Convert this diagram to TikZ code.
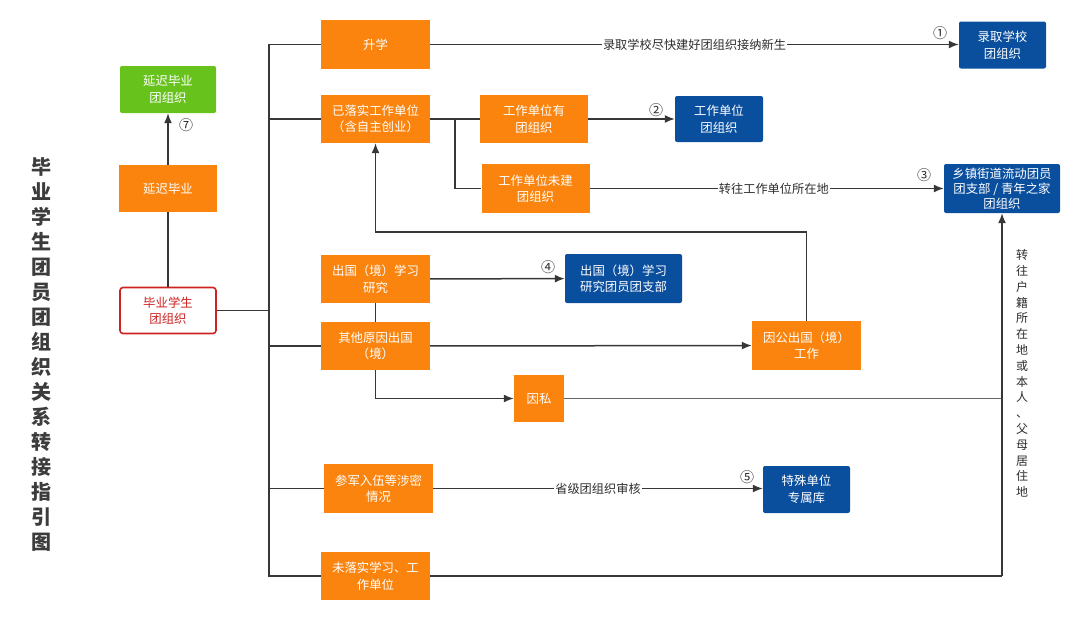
\documentclass[tikz,border=0pt]{standalone}
\usepackage{fontspec}
\setmainfont{Noto Sans CJK SC}
\usetikzlibrary{arrows.meta}
\definecolor{boxorange}{RGB}{250,132,14}
\definecolor{boxblue}{RGB}{10,78,158}
\definecolor{boxgreen}{RGB}{104,194,28}
\definecolor{boxred}{RGB}{205,35,35}
\definecolor{linegray}{RGB}{55,55,55}
\definecolor{textgray}{RGB}{45,45,45}
\definecolor{titlegray}{RGB}{60,60,60}
\tikzset{
  box/.style={minimum width=109pt, minimum height=48pt, inner sep=0pt, align=center,
    text=white, font=\fontsize{12.4}{16.5}\selectfont},
  orangebox/.style={box, fill=boxorange},
  bluebox/.style={box, fill=boxblue, rounded corners=2pt},
  greenbox/.style={box, fill=boxgreen, rounded corners=2pt},
  redbox/.style={box, fill=white, draw=boxred, line width=1.6pt, rounded corners=3pt, text=boxred},
  conn/.style={draw=linegray, line width=1.5pt},
  arr/.style={conn, -{Latex[length=10pt,width=8pt]}},
  lbl/.style={fill=white, inner sep=1pt, text=textgray, font=\fontsize{12.2}{14}\selectfont},
  num/.style={text=textgray, font=\fontsize{14}{14}\selectfont}
}
\begin{document}
\begin{tikzpicture}[x=1pt,y=-1pt]
\useasboundingbox (0,0) rectangle (1080,632);
% title
\node[align=center, text=titlegray, font=\fontsize{20}{25}\selectfont\bfseries] (title) at (41,355)
  {毕\\业\\学\\生\\团\\员\\团\\组\\织\\关\\系\\转\\接\\指\\引\\图};
% left column
\node[greenbox, minimum width=96pt, minimum height=47pt] (delaygrp) at (168,89.5) {延迟毕业\\团组织};
\node[orangebox, minimum width=98pt, minimum height=47pt] (delay) at (168,188.5) {延迟毕业};
\node[redbox, minimum width=96pt, minimum height=46pt] (grad) at (168,310.5) {毕业学生\\团组织};
% second column
\node[orangebox, minimum height=49pt] (further) at (375.5,44.5) {升学};
\node[orangebox] (employed) at (375.5,119) {已落实工作单位\\（含自主创业）};
\node[orangebox] (abroadstudy) at (375.5,279) {出国（境）学习\\研究};
\node[orangebox] (abroadother) at (375.5,346) {其他原因出国\\（境）};
\node[orangebox, minimum height=49pt] (army) at (378.5,488.5) {参军入伍等涉密\\情况};
\node[orangebox] (none) at (375.5,576) {未落实学习、工\\作单位};
% third column
\node[orangebox, minimum width=108pt] (unitorg) at (534,119) {工作单位有\\团组织};
\node[orangebox, minimum width=108pt, minimum height=49pt] (unitnone) at (535.5,188.5) {工作单位未建\\团组织};
\node[orangebox, minimum width=50pt, minimum height=47pt] (private) at (539,398.5) {因私};
\node[orangebox, minimum height=49pt] (official) at (806.5,345.5) {因公出国（境）\\工作};
% targets
\node[bluebox, minimum width=88pt, minimum height=46pt] (unitblue) at (719,119) {工作单位\\团组织};
\node[bluebox, minimum width=87pt, minimum height=47pt] (school) at (1002.5,45) {录取学校\\团组织};
\node[bluebox, minimum width=116pt, minimum height=49pt, font=\fontsize{12.4}{15}\selectfont] (township) at (1002,188.5)
  {乡镇街道流动团员\\团支部 / 青年之家\\团组织};
\node[bluebox, minimum width=117pt, minimum height=49pt] (abroadbr) at (623.5,278.5) {出国（境）学习\\研究团员团支部};
\node[bluebox, minimum width=87pt, minimum height=47pt] (special) at (806.5,489.5) {特殊单位\\专属库};
% bends
\coordinate (hub) at (269,310.5);
\coordinate (split) at (455,119);
\coordinate (offup) at (806.5,232);
\coordinate (privjoin) at (1002,398.5);
\coordinate (corner) at (1002,576);
% connectors
\draw[conn] (grad) -- (delay);
\draw[arr] (delay) -- (delaygrp);
\node[num] (n7) at (186,125) {⑦};
\draw[conn] (grad.east) -- (hub);
\draw[conn] (hub) |- (further.west);
\draw[conn] (hub) |- (employed.west);
\draw[conn] (hub) |- (abroadother.west);
\draw[conn] (hub) |- (army.west);
\draw[conn] (hub) |- (none.west);
\draw[arr] (further.east) -- node[lbl] {录取学校尽快建好团组织接纳新生} (school.west |- further.east);
\node[num] (n1) at (940,33) {①};
\draw[conn] (employed) -- (unitorg);
\draw[conn] (split) |- (unitnone.west);
\draw[arr] (unitorg) -- (unitblue);
\node[num] (n2) at (656,110) {②};
\draw[arr] (unitnone) -- node[lbl, pos=0.52] {转往工作单位所在地} (township);
\node[num] (n3) at (924,175) {③};
\draw[arr] (official.north) -- (offup) -| (employed.south);
\draw[conn] (abroadother) -- (abroadstudy);
\draw[arr] (abroadstudy) -- (abroadbr);
\node[num] (n4) at (548,267) {④};
\draw[arr] (abroadother) -- (official);
\draw[arr] (abroadother.south) |- (private.west);
\draw[conn, draw=gray!80!black] (private.east) -- (privjoin);
\draw[conn] (none.east) -- (corner);
\draw[arr] (corner) -- (township.south);
\node[align=center, text=textgray, font=\fontsize{12}{15.8}\selectfont] (route) at (1022,373.5)
  {转\\往\\户\\籍\\所\\在\\地\\或\\本\\人\\、\\父\\母\\居\\住\\地};
\draw[arr] (army.east) -- node[lbl, pos=0.5] {省级团组织审核} (special.west |- army.east);
\node[num] (n5) at (747,477) {⑤};
\end{tikzpicture}
\end{document}
